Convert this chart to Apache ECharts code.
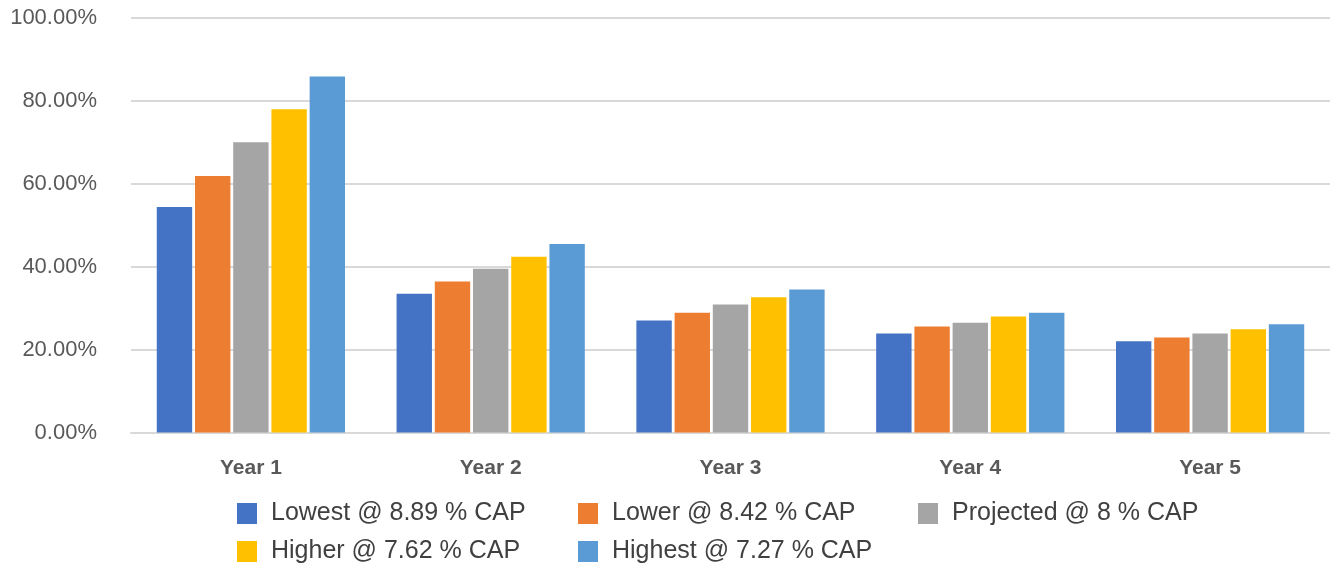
<!DOCTYPE html>
<html>
<head>
<meta charset="utf-8">
<script src="https://cdn.jsdelivr.net/npm/echarts@6/dist/echarts.min.js"></script>
<style>html,body{margin:0;padding:0;background:#fff}#c{width:1330px;height:565px}</style>
</head>
<body>
<div id="c"></div>
<script>
const categories = ['Year 1', 'Year 2', 'Year 3', 'Year 4', 'Year 5'];
const seriesNames = ['Lowest @ 8.89 % CAP', 'Lower @ 8.42 % CAP', 'Projected @ 8 % CAP', 'Higher @ 7.62 % CAP', 'Highest @ 7.27 % CAP'];
const lowest = [54.4, 33.5, 27.0, 23.9, 22.0];
const lower = [61.9, 36.4, 28.9, 25.6, 22.9];
const projected = [70.0, 39.5, 30.9, 26.5, 23.9];
const higher = [78.0, 42.4, 32.6, 28.0, 24.9];
const highest = [85.9, 45.5, 34.5, 28.9, 26.1];
const colors = ['#4472c4', '#ed7d31', '#a5a5a5', '#ffc000', '#5b9bd5'];
const values = [lowest, lower, projected, higher, highest];

const chart = echarts.init(document.getElementById('c'), null, {renderer: 'canvas'});
const legendPos = [[237, 501], [578, 501], [918, 501], [237, 539], [578, 539]];
const legends = seriesNames.map((n, i) => ({
  data: [n], left: legendPos[i][0], top: legendPos[i][1], orient: 'horizontal', padding: 0,
  itemWidth: 20, itemHeight: 21, itemGap: 0, icon: 'rect', selectedMode: false,
  textStyle: {fontSize: 25, color: '#404040', fontFamily: 'Liberation Sans, Arial, sans-serif', padding: [0, 0, 0, 9]}
}));
chart.setOption({
  animation: false,
  color: colors,
  legend: legends,
  grid: {left: 131, right: 0, top: 18, bottom: 132.5, containLabel: false},
  xAxis: {
    type: 'category', data: categories,
    axisLine: {lineStyle: {color: '#d9d9d9', width: 2}},
    axisTick: {show: false},
    axisLabel: {fontSize: 21, fontWeight: 'bold', color: '#595959', margin: 25, fontFamily: 'Liberation Sans, Arial, sans-serif'}
  },
  yAxis: {
    type: 'value', min: 0, max: 100, interval: 20,
    axisLine: {show: false}, axisTick: {show: false},
    splitLine: {lineStyle: {color: '#d9d9d9', width: 2}},
    axisLabel: {fontSize: 22, color: '#595959', margin: 34, fontFamily: 'Liberation Sans, Arial, sans-serif',
      formatter: v => v.toFixed(2) + '%'}
  },
  series: values.map((d, i) => ({
    name: seriesNames[i], type: 'bar', data: d,
    barGap: '8%', barCategoryGap: '21.5%',
    itemStyle: {color: colors[i]}
  }))
});
</script>
</body>
</html>
